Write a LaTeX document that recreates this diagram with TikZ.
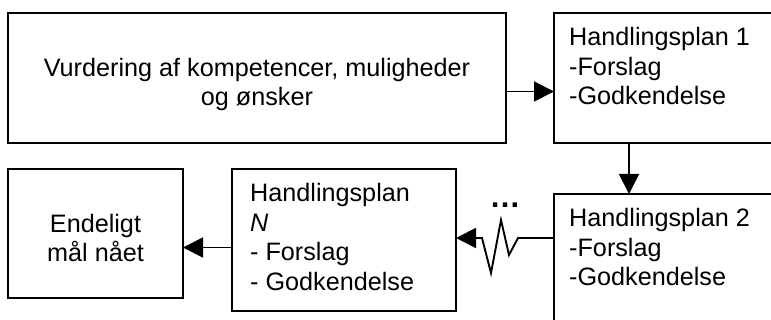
\documentclass[tikz,border=0pt]{standalone}
\usepackage{fontspec}
\setmainfont{Liberation Sans}
\usetikzlibrary{positioning,arrows.meta}

\begin{document}
\begin{tikzpicture}[x=1pt,y=-1pt,
	box/.style={draw, line width=1.9pt, inner sep=0pt, outer sep=0pt},
	txt/.style={font=\fontsize{25.2}{29.5}\selectfont, inner sep=0pt, align=left},
	arr/.style={line width=1.9pt, -{Triangle[length=20pt,width=20pt]}}]
	\useasboundingbox (0,0) rectangle (771,320);
	
	\node[box, minimum width=498pt, minimum height=130pt, anchor=north west] (vurd) at (8,13) {};
	\node[box, minimum width=250pt, minimum height=130pt, right=48pt of vurd.north east, anchor=north west] (hp1) {};
	\node[box, minimum width=250pt, minimum height=150pt, below=51pt of hp1.south west, anchor=north west] (hp2) {};
	\node[box, minimum width=224pt, minimum height=142pt, anchor=north west] (hpn) at (232,169) {};
	\node[box, minimum width=175pt, minimum height=129pt, left=49pt of hpn.north west, anchor=north east] (endm) {};
	
	\node[txt, align=center, below=45pt of vurd.north] (vurdtxt) {Vurdering af kompetencer, muligheder\\og ønsker};
	\node[txt, below right=14.5pt and 15pt of hp1.north west] (hp1txt) {Handlingsplan 1\\-Forslag\\-Godkendelse};
	\node[txt, below right=14.5pt and 15pt of hp2.north west] (hp2txt) {Handlingsplan 2\\-Forslag\\-Godkendelse};
	\node[txt, below right=14.5pt and 18pt of hpn.north west] (hpntxt) {Handlingsplan\\\textit{N}\\- Forslag\\- Godkendelse};
	\node[txt, align=center, below=45pt of endm.north] (endmtxt) {Endeligt\\mål nået};
	
	\coordinate[below=78.5pt of hp1.north west] (a1);
	\coordinate[right=75pt of hp1.south west] (a2);
	\coordinate[below=44pt of hp2.north west] (zz);
	\coordinate[below=78.5pt of hpn.north west] (a3);
	
	\draw[arr] (a1 -| vurd.east) -- (a1);
	\draw[arr] (a2) -- (a2 |- hp2.north);
	\draw[arr] (zz) -- ++(-36,0) -- ++(-9,17) -- ++(-8,-35) -- ++(-10,53) -- ++(-9,-35) -- (zz -| hpn.east);
	\draw[arr] (a3) -- (a3 -| endm.east);
	
	\node[font=\bfseries\fontsize{31}{31}\selectfont, inner sep=0pt, anchor=base] (dots) at ([shift={(-49pt,30pt)}]zz) {…};
\end{tikzpicture}
\end{document}
